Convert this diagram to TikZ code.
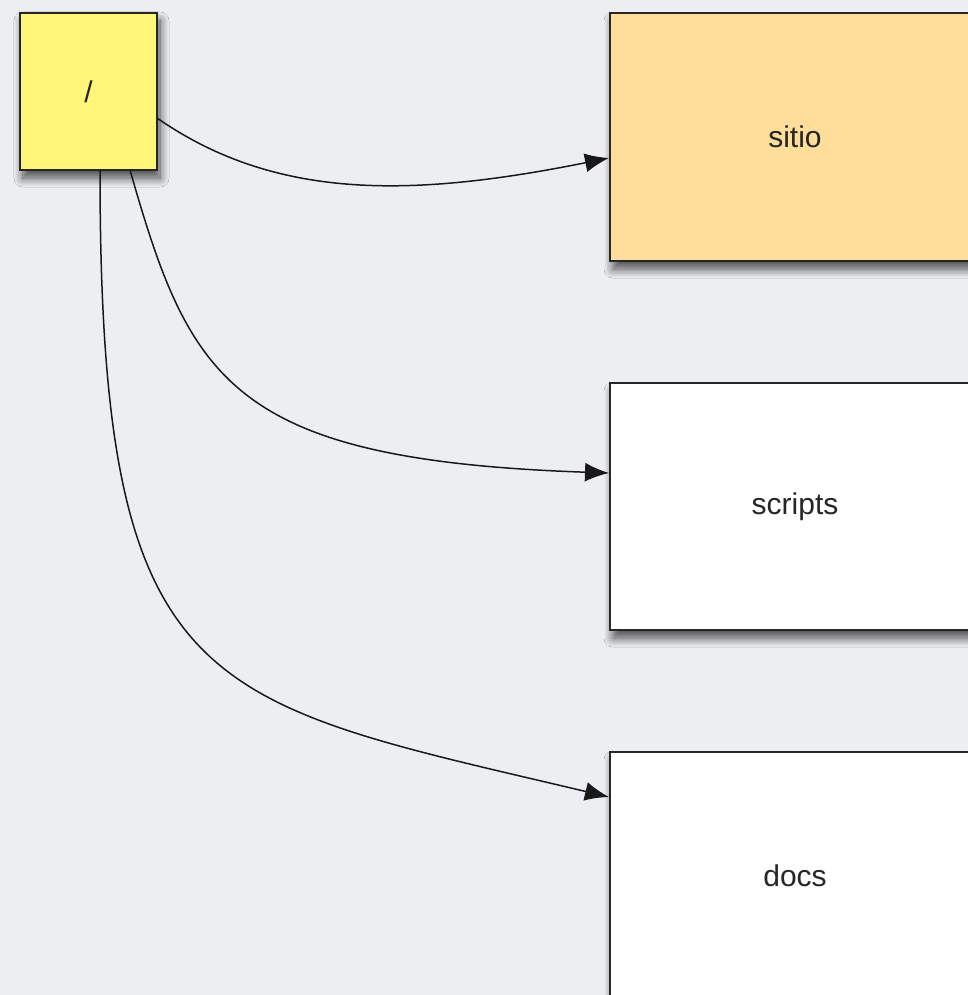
\documentclass[tikz,border=0pt]{standalone}
\usepackage{fontspec}
\setmainfont{Liberation Sans}
\usetikzlibrary{arrows.meta,shadows.blur}
\definecolor{bg}{RGB}{237,238,242}
\definecolor{rootyellow}{RGB}{255,246,122}
\definecolor{sitioorange}{RGB}{255,221,155}
\tikzset{
  box/.style={draw=black!85, line width=2pt, rectangle, inner sep=0pt,
    blur shadow={shadow xshift=3pt, shadow yshift=-8pt, shadow blur radius=9pt, shadow blur steps=12, shadow opacity=70},
    font=\fontsize{30}{36}\selectfont, text=black!85},
  conn/.style={draw=black!90, line width=1.5pt, -{Latex[length=24pt,width=19pt]}}
}
\begin{document}
\begin{tikzpicture}[x=1pt,y=-1pt]
\fill[bg] (0,0) rectangle (968,995);
\useasboundingbox (0,0) rectangle (968,995);
\clip (0,0) rectangle (968,995);
\node[box, fill=rootyellow, minimum width=137pt, minimum height=157pt] (root) at (88.5,91.5) {/};
\node[box, fill=sitioorange, minimum width=370pt, minimum height=248pt] (sitio) at (795,137) {sitio};
\node[box, fill=white, minimum width=370pt, minimum height=247pt] (scripts) at (795,506.5) {scripts};
\node[box, fill=white, minimum width=370pt, minimum height=248pt] (docs) at (795,876) {docs};
\coordinate (s1) at (157,118);
\coordinate (s2) at (130,170);
\coordinate (s3) at (100,170);
\coordinate (e1) at ([yshift=-21pt]sitio.west);
\coordinate (e2) at ([yshift=33.5pt]scripts.west);
\coordinate (e3) at ([yshift=79pt]docs.west);
\draw[conn] (s1) .. controls (275,200) and (410,198) .. (e1);
\draw[conn] (s2) .. controls (190,380) and (230,460) .. (e2);
\draw[conn] (s3) .. controls (100,700) and (200,700) .. (e3);
\end{tikzpicture}
\end{document}
